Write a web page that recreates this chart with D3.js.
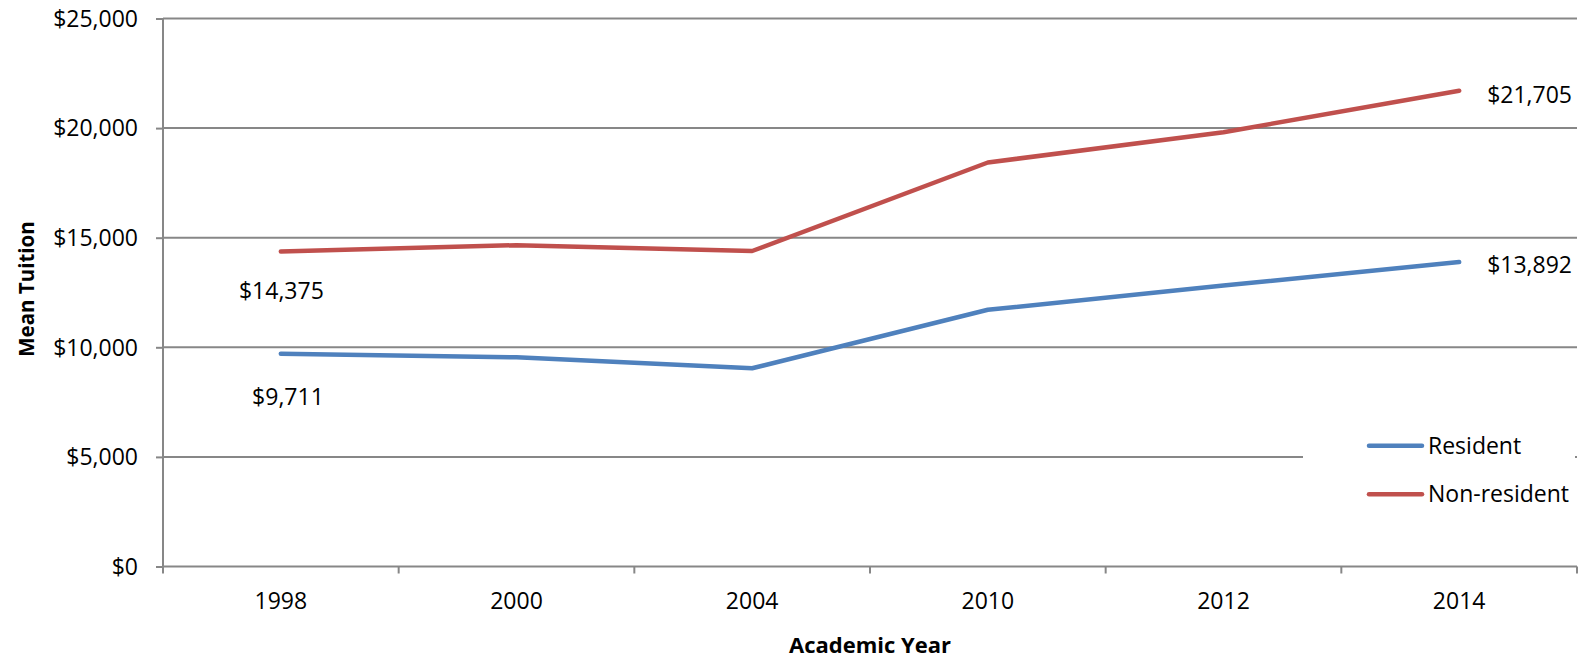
<!DOCTYPE html>
<html>
<head>
<meta charset="utf-8">
<script src="https://cdn.jsdelivr.net/npm/d3@7"></script>
<style>
  html, body { margin: 0; padding: 0; background: #fff; }
  svg { display: block; font-family: "Open Sans", "Noto Sans", sans-serif; }
</style>
</head>
<body>
<svg id="chart" width="1583" height="659"></svg>
<script>
// Mean tuition by academic year
const years = ["1998", "2000", "2004", "2010", "2012", "2014"];
const resident = [9711, 9544, 9042, 11711, 12815, 13892];
const nonResident = [14375, 14658, 14393, 18430, 19813, 21705];
const yTicks = [0, 5000, 10000, 15000, 20000, 25000];
const seriesNames = ["Resident", "Non-resident"];
const seriesColors = ["#4F81BD", "#C0504D"];

const svg = d3.select("#chart");
const plotLeft = 163, plotRight = 1577, plotTop = 18.5, plotBottom = 566.5;
const gridColor = "#878787";
const fontFamily = "'Open Sans', 'Noto Sans', sans-serif";

const x = d3.scaleBand().domain(years).range([plotLeft, plotRight]).padding(0);
const y = d3.scaleLinear().domain([0, 25000]).range([plotBottom, plotTop]);
const cx = d => x(d) + x.bandwidth() / 2;

// Horizontal gridlines
svg.append("g").selectAll("line").data(yTicks.filter(t => t > 0)).join("line")
  .attr("x1", plotLeft).attr("x2", plotRight)
  .attr("y1", d => y(d)).attr("y2", d => y(d))
  .attr("stroke", gridColor).attr("stroke-width", 2);

// Y axis
const yAxis = svg.append("g").attr("transform", `translate(${plotLeft},0)`)
  .call(d3.axisLeft(y).tickValues(yTicks).tickSize(7).tickPadding(18)
    .tickFormat(d => "$" + d3.format(",")(d)));
yAxis.select(".domain").attr("stroke", gridColor).attr("stroke-width", 2).attr("d", `M0,${plotTop}V${plotBottom}`);
yAxis.selectAll(".tick line").attr("stroke", gridColor).attr("stroke-width", 2);
yAxis.selectAll(".tick text").attr("font-size", 23).attr("fill", "#000")
  .attr("font-family", fontFamily).attr("dy", "0.34em");

// X axis: labels centred in bands, tick marks on band edges
const xAxis = svg.append("g").attr("transform", `translate(0,${plotBottom})`)
  .call(d3.axisBottom(x).tickSize(0).tickPadding(26));
xAxis.select(".domain").remove();
xAxis.selectAll(".tick text").attr("font-size", 23).attr("fill", "#000")
  .attr("font-family", fontFamily);
const edges = years.map(d => x(d)).concat([x(years[years.length - 1]) + x.bandwidth()]);
svg.append("line").attr("x1", plotLeft).attr("x2", plotRight).attr("y1", plotBottom).attr("y2", plotBottom)
  .attr("stroke", gridColor).attr("stroke-width", 2);
svg.append("g").selectAll("line").data(edges).join("line")
  .attr("x1", d => d).attr("x2", d => d)
  .attr("y1", plotBottom).attr("y2", plotBottom + 7)
  .attr("stroke", gridColor).attr("stroke-width", 2);

// Series lines
const line = d3.line().x((d, i) => cx(years[i])).y(d => y(d));
[resident, nonResident].forEach((vals, k) => {
  svg.append("path").datum(vals)
    .attr("d", line).attr("fill", "none")
    .attr("stroke", seriesColors[k]).attr("stroke-width", 4.5)
    .attr("stroke-linejoin", "round").attr("stroke-linecap", "round");
});

// Value labels at the first and last points
const labelFmt = v => "$" + d3.format(",")(v);
const last = years.length - 1;
const labels = [
  { v: nonResident[0], x: cx(years[0]) + 43, y: y(nonResident[0]) + 40, anchor: "end" },
  { v: resident[0], x: cx(years[0]) + 43, y: y(resident[0]) + 43, anchor: "end" },
  { v: nonResident[last], x: cx(years[last]) + 28, y: y(nonResident[last]) + 4, anchor: "start" },
  { v: resident[last], x: cx(years[last]) + 28, y: y(resident[last]) + 3, anchor: "start" }
];
svg.append("g").selectAll("text").data(labels).join("text")
  .attr("x", d => d.x).attr("y", d => d.y).attr("dy", "0.35em")
  .attr("text-anchor", d => d.anchor)
  .attr("font-size", 23).attr("fill", "#000")
  .text(d => labelFmt(d.v));

// Legend with its white backing
const legend = svg.append("g");
legend.append("rect").attr("x", 1303).attr("y", 425).attr("width", 272).attr("height", 95).attr("fill", "#fff");
seriesNames.forEach((name, i) => {
  const ly = 445.7 + i * 48.5;
  legend.append("line").attr("x1", 1369).attr("x2", 1422).attr("y1", ly).attr("y2", ly)
    .attr("stroke", seriesColors[i]).attr("stroke-width", 4.5).attr("stroke-linecap", "round");
  legend.append("text").attr("x", 1428).attr("y", ly).attr("dy", "0.35em")
    .attr("font-size", 23).attr("fill", "#000").text(name);
});

// Axis titles
svg.append("text").attr("transform", `translate(26.5,289) rotate(-90)`)
  .attr("text-anchor", "middle").attr("dy", "0.35em")
  .attr("font-size", 20.5).attr("font-weight", "bold").attr("fill", "#000").text("Mean Tuition");
svg.append("text").attr("x", (plotLeft + plotRight) / 2).attr("y", 645).attr("dy", "0.35em")
  .attr("text-anchor", "middle")
  .attr("font-size", 22).attr("font-weight", "bold").attr("fill", "#000").text("Academic Year");
</script>
</body>
</html>
